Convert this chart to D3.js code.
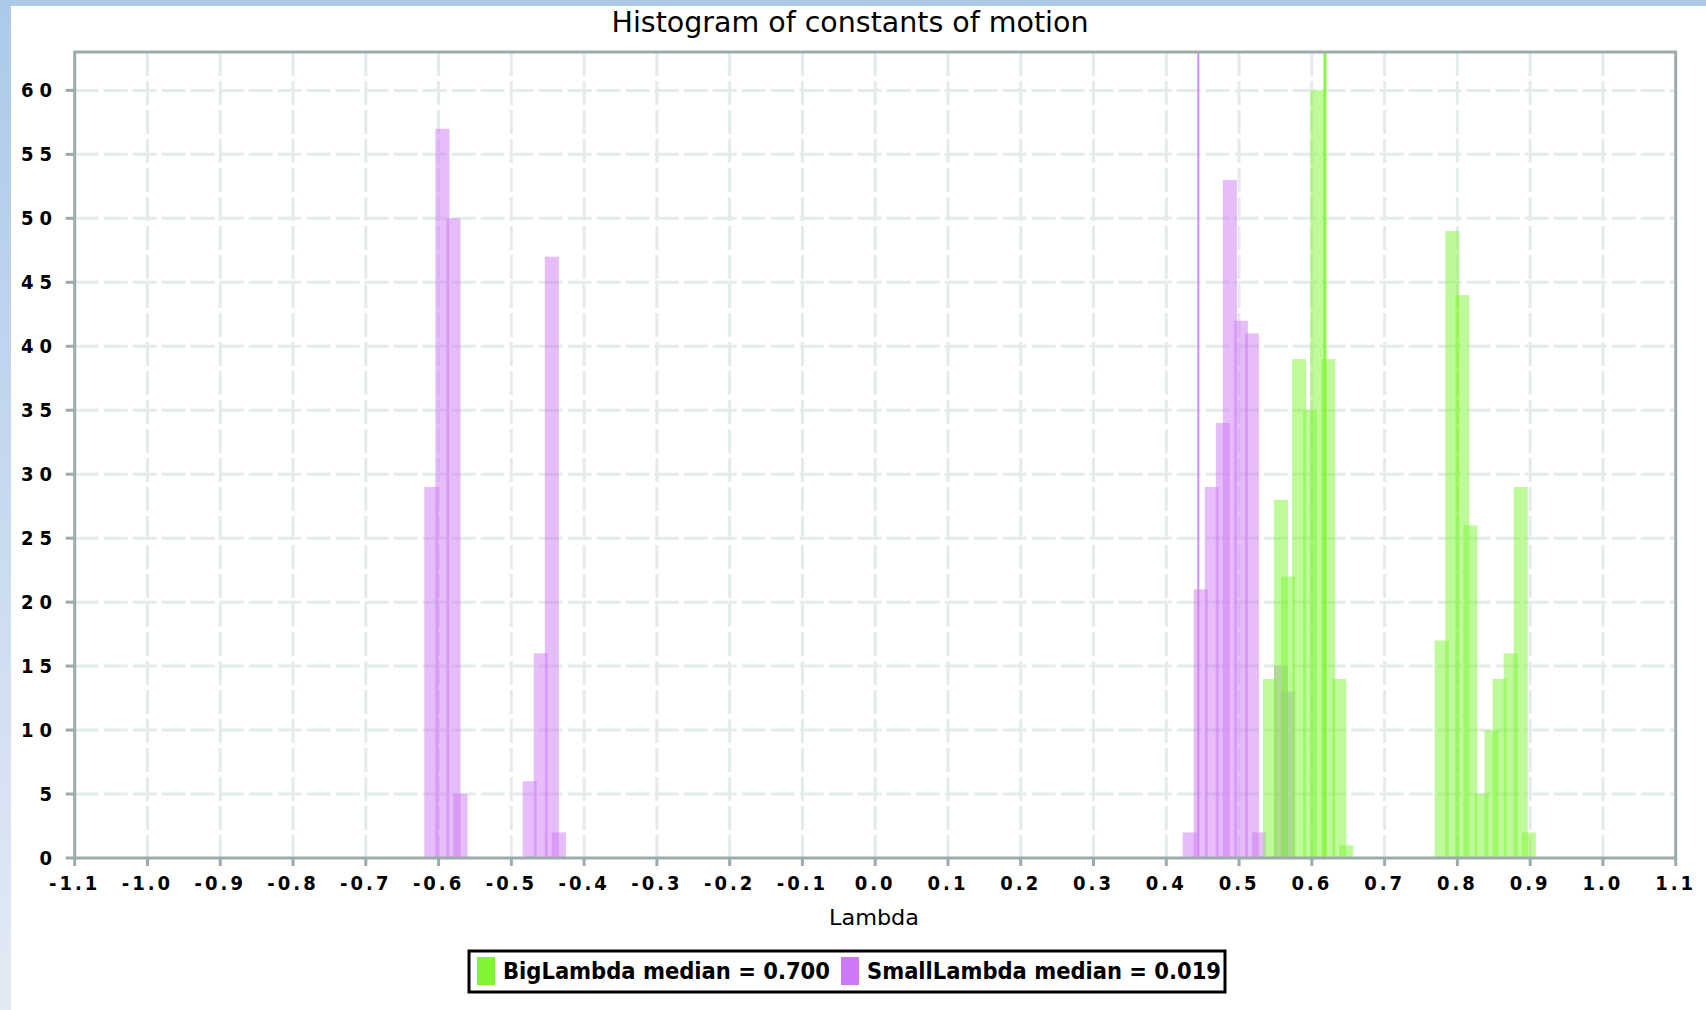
<!DOCTYPE html>
<html lang="en">
  <head>
    <meta charset="utf-8" />
    <script src="https://d3js.org/d3.v7.min.js"></script>
    <style>
      body { margin: 0; background: #fff; }
      svg { display: block; }
      text {
        font-family: 'DejaVu Sans Condensed', 'Liberation Sans Narrow', 'DejaVu Sans', sans-serif;
        fill: #000;
      }
      .tick-label { font-size: 20px; font-weight: bold; }
    </style>
  </head>
  <body>
    <svg id="chart" width="1706" height="1010"></svg>
    <script>
      // SmallLambda histogram: bar left edges (lambda) and counts
      const smallLeft = [-0.6196, -0.6044, -0.5892, -0.5796,
        -0.4844, -0.4692, -0.4540, -0.4444,
        0.4225, 0.4377, 0.4529, 0.4680, 0.4777, 0.4929, 0.5080, 0.5177,
        0.5480, 0.5577];
      const smallCount = [29, 57, 50, 5,
        6, 16, 47, 2,
        2, 21, 29, 34, 53, 42, 41, 2,
        15, 13];

      // BigLambda histogram
      const bigLeft = [0.5329, 0.5480, 0.5577, 0.5729, 0.5880, 0.5977, 0.6129, 0.6280, 0.6377,
        0.7687, 0.7834, 0.7972, 0.8083, 0.8235, 0.8373, 0.8484, 0.8636, 0.8774, 0.8885];
      const bigCount = [14, 28, 22, 39, 35, 60, 39, 14, 1,
        17, 49, 44, 26, 5, 10, 14, 16, 29, 2];

      const barWidth = 0.0193;

      // median markers as drawn in the plot
      const smallMarker = 0.4440;
      const bigMarker = 0.6180;

      const seriesNames = ['BigLambda median = 0.700', 'SmallLambda median = 0.019'];
      const seriesColors = ['#80f535', '#cd79f5'];

      const xTicks = d3.range(-11, 12).map(i => i / 10);
      const yTicks = d3.range(0, 61, 5);

      const svg = d3.select('#chart');
      const W = 1706, H = 1010;

      // page background (blue frame on the top and left)
      const defs = svg.append('defs');
      const grad = defs.append('linearGradient')
        .attr('id', 'frame')
        .attr('x1', 0).attr('y1', 0).attr('x2', 0).attr('y2', 1);
      grad.append('stop').attr('offset', '0%').attr('stop-color', '#adc9ea');
      grad.append('stop').attr('offset', '100%').attr('stop-color', '#e3eaf5');
      svg.append('rect').attr('width', W).attr('height', H).attr('fill', 'url(#frame)');
      svg.append('rect').attr('x', 11).attr('y', 6).attr('width', W - 11).attr('height', H - 6).attr('fill', '#fff');

      const x = d3.scaleLinear().domain([-1.1, 1.1]).range([74.7, 1675.7]);
      const y = d3.scaleLinear().domain([0, 63]).range([858, 52]);

      const plotL = x.range()[0], plotR = x.range()[1];
      const plotT = y.range()[1], plotB = y.range()[0];

      // grid
      const grid = svg.append('g')
        .attr('stroke', '#e5ebeb')
        .attr('stroke-width', 3)
        .attr('stroke-dasharray', '24 5');
      grid.selectAll('.vg')
        .data(xTicks.slice(1, -1))
        .enter()
        .append('line')
        .attr('x1', d => x(d)).attr('x2', d => x(d))
        .attr('y1', plotT).attr('y2', plotB);
      grid.selectAll('.hg')
        .data(yTicks.slice(1))
        .enter()
        .append('line')
        .attr('x1', plotL).attr('x2', plotR)
        .attr('y1', d => y(d)).attr('y2', d => y(d));

      // bars: SmallLambda first, BigLambda on top
      const small = smallLeft.map((l, i) => ({ l: l, c: smallCount[i] }));
      const big = bigLeft.map((l, i) => ({ l: l, c: bigCount[i] }));

      function drawBars(data, color) {
        svg.append('g')
          .selectAll('rect')
          .data(data)
          .enter()
          .append('rect')
          .attr('x', d => x(d.l))
          .attr('width', d => x(d.l + barWidth) - x(d.l))
          .attr('y', d => y(d.c))
          .attr('height', d => y(0) - y(d.c))
          .attr('fill', color)
          .attr('fill-opacity', 0.5);
      }
      drawBars(small, seriesColors[1]);
      drawBars(big, seriesColors[0]);

      // median markers
      svg.append('line')
        .attr('x1', x(smallMarker)).attr('x2', x(smallMarker))
        .attr('y1', plotT).attr('y2', plotB)
        .attr('stroke', seriesColors[1]).attr('stroke-opacity', 0.85)
        .attr('stroke-width', 2);
      svg.append('line')
        .attr('x1', x(bigMarker)).attr('x2', x(bigMarker))
        .attr('y1', plotT).attr('y2', plotB)
        .attr('stroke', seriesColors[0]).attr('stroke-opacity', 0.9)
        .attr('stroke-width', 3);

      // plot border
      svg.append('rect')
        .attr('x', plotL).attr('y', plotT)
        .attr('width', plotR - plotL).attr('height', plotB - plotT)
        .attr('fill', 'none')
        .attr('stroke', '#9cabab')
        .attr('stroke-width', 3);

      // x axis
      const fmt = d => d3.format('.1f')(d).replace('\u2212', '-');
      const xAxis = svg.append('g');
      xAxis.selectAll('line')
        .data(xTicks)
        .enter()
        .append('line')
        .attr('x1', d => x(d)).attr('x2', d => x(d))
        .attr('y1', plotB).attr('y2', plotB + 8)
        .attr('stroke', '#9cabab').attr('stroke-width', 3);
      xAxis.selectAll('text')
        .data(xTicks)
        .enter()
        .append('text')
        .attr('class', 'tick-label')
        .attr('x', d => x(d))
        .attr('y', 890)
        .attr('text-anchor', 'middle')
        .style('letter-spacing', '3px')
        .text(fmt);

      // y axis
      const yAxis = svg.append('g');
      yAxis.selectAll('line')
        .data(yTicks)
        .enter()
        .append('line')
        .attr('x1', plotL - 9).attr('x2', plotL)
        .attr('y1', d => y(d)).attr('y2', d => y(d))
        .attr('stroke', '#9cabab').attr('stroke-width', 3);
      yAxis.selectAll('text')
        .data(yTicks)
        .enter()
        .append('text')
        .attr('class', 'tick-label')
        .attr('x', 58)
        .attr('y', d => y(d) + 7)
        .attr('text-anchor', 'end')
        .style('letter-spacing', '6px')
        .text(d => d);

      // title and axis label
      svg.append('text')
        .attr('x', 850).attr('y', 32)
        .attr('text-anchor', 'middle')
        .attr('font-size', 28)
        .attr('textLength', 477)
        .attr('lengthAdjust', 'spacingAndGlyphs')
        .text('Histogram of constants of motion');
      svg.append('text')
        .attr('x', 874).attr('y', 925)
        .attr('text-anchor', 'middle')
        .attr('font-size', 22)
        .attr('textLength', 90)
        .attr('lengthAdjust', 'spacingAndGlyphs')
        .text('Lambda');

      // legend
      const legend = svg.append('g');
      legend.append('rect')
        .attr('x', 469).attr('y', 951)
        .attr('width', 756).attr('height', 41)
        .attr('fill', '#fff')
        .attr('stroke', '#000')
        .attr('stroke-width', 3);
      const items = [
        { sx: 477, tx: 503, tw: 327 },
        { sx: 841, tx: 867, tw: 354 },
      ];
      items.forEach((it, i) => {
        legend.append('rect')
          .attr('x', it.sx).attr('y', 957)
          .attr('width', 18).attr('height', 28)
          .attr('fill', seriesColors[i]);
        legend.append('text')
          .attr('x', it.tx).attr('y', 979)
          .attr('font-size', 23)
          .attr('font-weight', 'bold')
          .attr('textLength', it.tw)
          .attr('lengthAdjust', 'spacingAndGlyphs')
          .text(seriesNames[i]);
      });
    </script>
  </body>
</html>
